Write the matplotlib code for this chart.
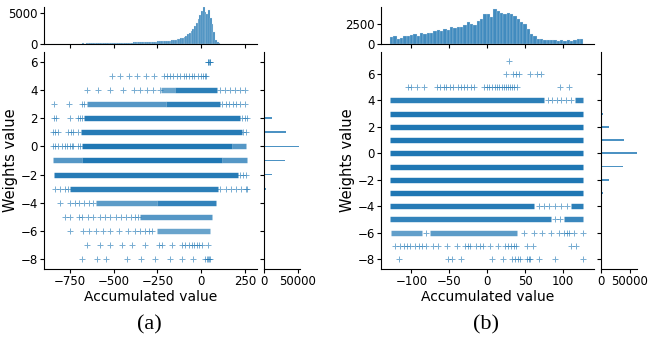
import numpy as np
import matplotlib.pyplot as plt

C0 = "#1f77b4"

# ---- panel (a): rows of the scatter ----
# dense runs: (weight, x_start, x_end, density)
A_DENSE = [
    (4, -230, -150, 0.45), (4, -150, 92, 0.9),
    (3, -655, -200, 0.6), (3, -200, 109, 0.9),
    (2, -673, 225, 0.95),
    (1, -690, 232, 0.95),
    (0, -683, 176, 1.0), (0, 176, 257, 0.6),
    (-1, -847, -680, 0.6), (-1, -680, 118, 1.0), (-1, 118, 262, 0.6),
    (-2, -845, 210, 0.95),
    (-3, -750, 97, 0.9),
    (-4, -600, -250, 0.55), (-4, -250, 85, 0.85),
    (-5, -350, 60, 0.6),
    (-6, -250, 50, 0.45),
]
A_SPARSE = {
    6: [38, 42, 46, 48, 50],
    5: [-511, -463, -415, -367, -317, -269, -210, -195, -180, -160, -140, -120,
        -100, -85, -70, -55, -40, -20, 0, 10, 20, 30],
    4: [-651, -588, -521, -445, -382, -349, -311, -273, -235, 109, 137, 166,
        195, 223, 252],
    3: [-841, -756, -683, -670, 120, 140, 160, 180, 200, 225, 250],
    2: [-841, -830, -750, -704, -692, -681, 235, 250, 262],
    1: [-847, -835, -819, -761, -747, -733, -704, 240, 255],
    0: [-847, -835, -819, -796, -780, -767, -750, -740, -733, -704, -695],
    -2: [225, 240, 255],
    -3: [-836, -810, -780, -760, 110, 140, 170, 200, 230, 255, 265],
    -4: [-807, -750, -720, -700, -670, -640, -620],
    -5: [-778, -750, -700, -680, -650, -620, -580, -550, -520, -490, -460, -430,
         -400, -380, -360],
    -6: [-750, -674, -640, -600, -560, -520, -470, -420, -380, -350, -320, -300,
         -280],
    -7: [-654, -578, -521, -454, -397, -320, -240, -225, -168, -111, -90, -70,
         -55, -40, -25, -10, 5, 40],
    -8: [-683, -597, -544, -425, -343, -263, -181, -111, -44, 25, 35, 40, 45, 50],
}
# top marginal histogram, 10-wide bins from -860 to 280
A_HIST_LO, A_HIST_HI = -860, 280
A_HIST = [30, 20, 40, 30, 50, 40, 30, 60, 50, 40, 60, 50, 70, 60, 80, 70,
          80, 70, 90, 80, 100, 90, 110, 100, 120, 110, 130, 120, 140, 130, 150,
          140, 160, 150, 170, 160,
          180, 170, 190, 200, 190, 210, 220, 210, 230, 240, 230, 250, 260, 250,
          270, 280, 270, 290, 300, 290,
          320, 340, 360, 380, 400, 420, 440, 460, 480, 500,
          520, 540, 560, 600, 650, 700, 780, 860, 950, 1050,
          1200, 1350, 1550, 1800, 2100, 2500, 2900, 3400, 4000, 4700,
          5400, 5950, 5200, 4900, 5500, 4300, 3300, 1900, 700, 250,
          90, 60, 50, 40, 40, 35, 35, 30, 30, 30, 25, 25, 25, 20, 20, 20, 20, 20]
# right marginal: count per weight value
A_W = [4, 3, 2, 1, 0, -1, -2, -3, -4]
A_WCOUNT = [400, 2000, 11500, 33500, 52000, 31500, 12000, 2500, 400]

# ---- panel (b) ----
B_DENSE = [
    (4, -128, 75, 0.9), (4, 116, 127, 0.85),
    (3, -128, 127, 1.0), (2, -128, 127, 1.0), (1, -128, 127, 1.0),
    (0, -128, 127, 1.0), (-1, -128, 127, 1.0), (-2, -128, 127, 1.0),
    (-3, -128, 127, 1.0),
    (-4, -128, 62, 0.95), (-4, 110, 127, 0.9),
    (-5, -128, 84, 0.85), (-5, 102, 127, 0.8),
    (-6, -127, -86, 0.5), (-6, -75, 40, 0.55),
]
B_SPARSE = {
    7: [29],
    6: [25, 34.5, 37.6, 42, 56, 65.5, 71.7],
    5: [-105, -101, -92, -83, -66, -62, -57, -54, -49, -45, -39, -35, -31, -27,
        -21, -17, -4, 0, 3, 6, 10, 13, 16, 19, 22, 25, 27, 30, 33, 36, 40, 96, 108],
    4: [80, 86, 92, 98, 104, 110],
    -4: [68, 75, 82, 90, 98, 105],
    -5: [90, 96],
    -6: [-80, 48, 62, 73, 84, 95, 101, 105, 108, 115, 127],
    -7: [-122, -115, -110, -106, -102, -95, -90, -86, -80, -71, -65, -53, -40,
         -29, -25, -22, -15, -10, -5, 4, 15, 24, 28, 32, 35, 38, 53, 60, 111, 117],
    -8: [-116, -51, -46, -34, 7, 21, 33, 37, 41, 44, 53, 55, 57, 68, 89, 127],
}
B_HIST_LO, B_HIST_HI = -128, 127
B_HIST = [875, 960, 670, 790, 1080, 960, 1170, 1290, 1080, 1375, 1290, 1375,
          1460, 1625, 1790, 1625, 1875, 1790, 2125, 2040, 2210, 2125, 2460, 2750,
          2540, 2460, 2960, 3170, 3875, 3790, 3375, 4420, 4200, 4000, 3790, 4000,
          3875, 3580, 3170, 2750, 2540, 1920, 1290, 960, 670, 580, 540, 460, 540,
          460, 375, 460, 330, 460, 420, 500, 620, 670]
B_W = [4, 3, 2, 1, 0, -1, -2, -3, -4]
B_WCOUNT = [300, 4100, 14500, 39700, 61500, 37400, 14500, 3400, 1700]

W, H = 652, 341
fig = plt.figure(figsize=(W / 100, H / 100), dpi=100)


def px_axes(x0, y0, x1, y1):
    return fig.add_axes([x0 / W, 1 - y1 / H, (x1 - x0) / W, (y1 - y0) / H])


def panel(x0, dense, sparse, hist, lo, hi, wvals, wcount, xlim, ylim,
          xticks, htop, hticks, cmax, letter):
    main = px_axes(x0, 52, x0 + 213, 269)
    top = px_axes(x0, 7, x0 + 213, 44)
    right = px_axes(x0 + 220, 52, x0 + 256, 269)

    for w, a, b, d in dense:
        main.hlines(w, a, b, color=C0, lw=3.9, alpha=0.4 + 0.6 * d)
    for w, xs in sparse.items():
        main.plot(xs, [w] * len(xs), "+", ms=5, mew=0.7, color=C0, alpha=0.6)
    main.set_xlim(*xlim)
    main.set_ylim(*ylim)
    main.set_xticks(xticks)
    main.set_yticks([-8, -6, -4, -2, 0, 2, 4, 6])
    main.set_xlabel("Accumulated value", fontsize=10, labelpad=1)
    main.set_ylabel("Weights value", fontsize=10.5, labelpad=2)

    edges = np.linspace(lo, hi, len(hist) + 1)
    top.bar(edges[:-1], hist, width=np.diff(edges), align="edge", color=C0,
            alpha=0.85, edgecolor="#dfe8f0", linewidth=0.2)
    top.set_xlim(*xlim)
    top.set_ylim(0, htop)
    top.set_yticks(hticks)
    top.set_xticks(xticks)
    top.tick_params(axis="x", labelbottom=False)

    right.barh(wvals, wcount, height=0.13, color=C0, alpha=0.8)
    right.set_ylim(*ylim)
    right.set_xlim(0, cmax)
    right.set_xticks([0, 50000])
    right.set_yticks([-8, -6, -4, -2, 0, 2, 4, 6])
    right.tick_params(axis="y", labelleft=False)

    for ax in (main, top, right):
        for s in ("top", "right"):
            ax.spines[s].set_visible(False)
        ax.tick_params(labelsize=8.5, length=3, pad=1.5)

    fig.text((x0 + 105) / W, 1 - 325 / H, letter, ha="center", va="center",
             fontsize=16, family="Liberation Serif")


panel(44, A_DENSE, A_SPARSE, A_HIST, A_HIST_LO, A_HIST_HI, A_W, A_WCOUNT,
      (-900, 320), (-8.71, 6.71), [-750, -500, -250, 0, 250], 6030,
      [0, 5000], 53700, "(a)")
panel(381, B_DENSE, B_SPARSE, B_HIST, B_HIST_LO, B_HIST_HI, B_W, B_WCOUNT,
      (-140, 141), (-8.76, 7.67), [-100, -50, 0, 50, 100], 4710,
      [0, 2500], 62000, "(b)")

fig.savefig("out.png", dpi=100, facecolor="white")
